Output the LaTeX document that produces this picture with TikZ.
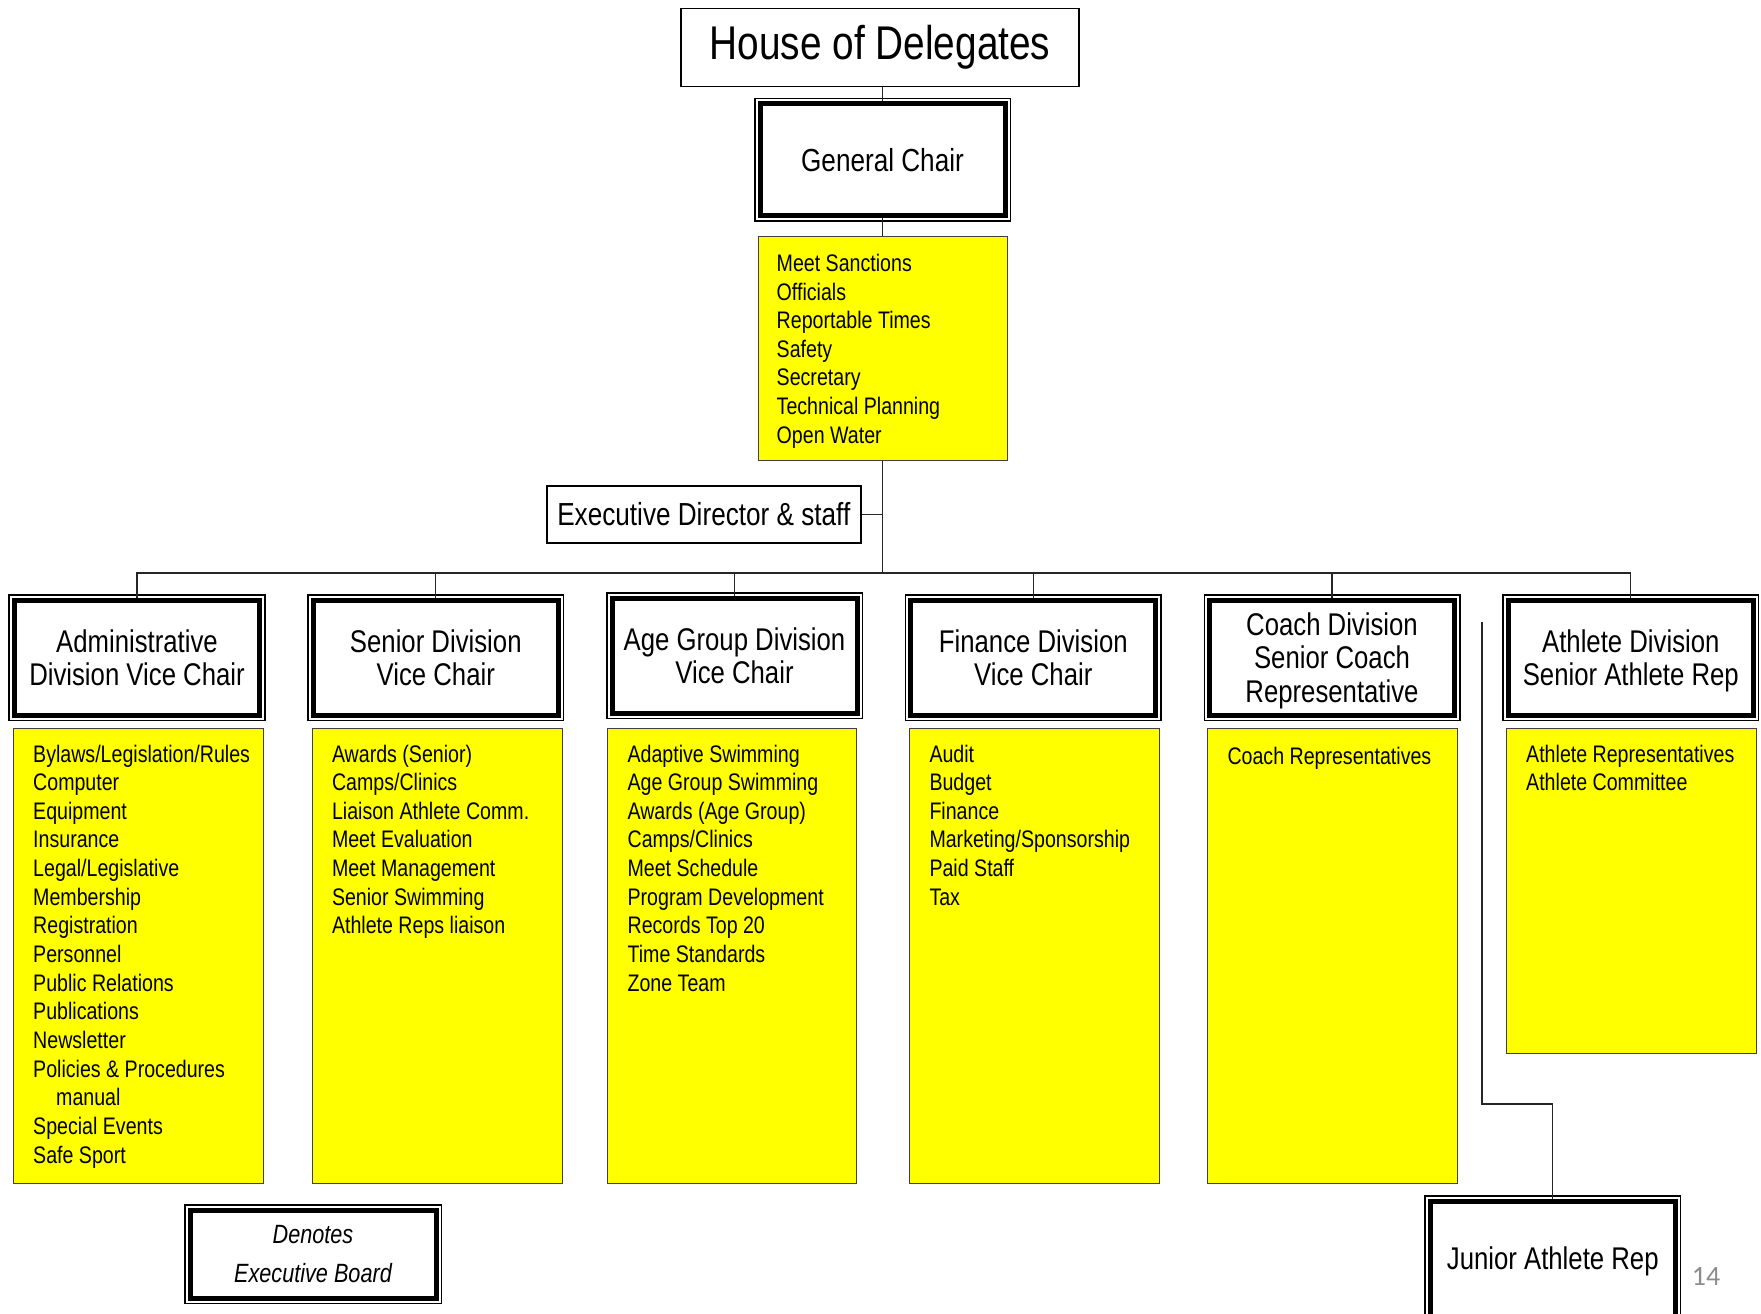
\documentclass[tikz,border=0pt]{standalone}
\usepackage{fontspec}
\setmainfont[FakeStretch=0.82]{Liberation Sans}
\newfontfamily\pagefont{Carlito}
\usetikzlibrary{calc}

\definecolor{pagegray}{RGB}{140,140,140}
\definecolor{dutyyellow}{RGB}{255,255,0}
\newcommand{\listfont}{\fontsize{24}{28.75}\selectfont}
\newcommand{\titlefont}{\fontsize{31.5}{33.7}\selectfont}

\begin{document}
\begin{tikzpicture}[
  x=1bp, y=-1bp,
  box/.style={draw, line width=1.5bp, align=center, inner sep=0pt},
  execbox/.style={draw, line width=5bp, fill=white, align=center, inner sep=0pt,
    minimum width=245bp, minimum height=115bp, font=\titlefont, text depth=0pt,
    preaction={draw=black, line width=12bp},
    preaction={draw=white, line width=9bp}},
  dutybox/.style={draw=black!75, line width=1bp, fill=dutyyellow, minimum width=250bp, inner sep=0pt},
  items/.style={anchor=north west, align=left, inner sep=0pt, font=\listfont, execute at begin node=\strut},
  conn/.style={draw=black!85, line width=1.3bp},
]
\useasboundingbox (0,0) rectangle (1761,1314);
\fill[white] (0,0) rectangle (1761,1314);
\clip (0,0) rectangle (1761,1314);

% Top of the chart
\node[box, minimum width=398bp, minimum height=78bp, font=\fontsize{47.5}{52}\selectfont] (house) at (880,47.5) {House of Delegates};
\node[execbox, minimum height=112bp, font=\fontsize{32}{36}\selectfont] (gc) at (882.5,160) {General Chair};
\node[dutybox, minimum width=249bp, minimum height=223bp] (gclist) at (882.5,348.5) {};
\node[items] (gcitems) at ([shift={(19,17.4)}]gclist.north west) {Meet Sanctions\\Officials\\Reportable Times\\Safety\\Secretary\\Technical Planning\\Open Water};
\node[box, minimum width=314bp, minimum height=57bp, font=\fontsize{32}{36}\selectfont] (exec) at (703.8,514.5) {Executive Director \& staff};

% Divisions
\node[execbox] (admin) at (137,657.5) {Administrative\\Division Vice Chair};
\node[execbox] (senior) at (435.8,657.5) {Senior Division\\Vice Chair};
\node[execbox] (agegroup) at (734.5,655.5) {Age Group Division\\Vice Chair};
\node[execbox] (finance) at (1033.3,657.5) {Finance Division\\Vice Chair};
\node[execbox] (coach) at (1332,657.5) {Coach Division\\Senior Coach\\Representative};
\node[execbox] (athlete) at (1630.8,657.5) {Athlete Division\\Senior Athlete Rep};

% Committee lists
\node[dutybox, minimum height=455bp] (adminlist) at (138.5,955.5) {};
\node[items] (adminitems) at ([shift={(20,17)}]adminlist.north west) {Bylaws/Legislation/Rules\\Computer\\Equipment\\Insurance\\Legal/Legislative\\Membership\\Registration\\Personnel\\Public Relations\\Publications\\Newsletter\\Policies \& Procedures\\\hspace*{23bp}manual\\Special Events\\Safe Sport};
\node[dutybox, minimum height=455bp] (seniorlist) at (437.3,955.5) {};
\node[items] (senioritems) at ([shift={(20,17)}]seniorlist.north west) {Awards (Senior)\\Camps/Clinics\\Liaison Athlete Comm.\\Meet Evaluation\\Meet Management\\Senior Swimming\\Athlete Reps liaison};
\node[dutybox, minimum width=249bp, minimum height=455bp] (agegrouplist) at (732.4,955.5) {};
\node[items] (agegroupitems) at ([shift={(20,17)}]agegrouplist.north west) {Adaptive Swimming\\Age Group Swimming\\Awards (Age Group)\\Camps/Clinics\\Meet Schedule\\Program Development\\Records Top 20\\Time Standards\\Zone Team};
\node[dutybox, minimum height=455bp] (financelist) at (1034.8,955.5) {};
\node[items] (financeitems) at ([shift={(20,17)}]financelist.north west) {Audit\\Budget\\Finance\\Marketing/Sponsorship\\Paid Staff\\Tax};
\node[dutybox, minimum height=455bp] (coachlist) at (1332.8,955.5) {};
\node[items] (coachitems) at ([shift={(20,17)}]coachlist.north west) {Coach Representatives};
\node[dutybox, minimum height=325.5bp] (athletelist) at (1631.5,890.75) {};
\node[items] (athleteitems) at ([shift={(20,17)}]athletelist.north west) {Athlete Representatives\\Athlete Committee};

% Bottom row
\node[execbox, minimum width=246bp, minimum height=88bp, font=\fontsize{26.5}{39}\selectfont\itshape] (legend) at (313,1254) {Denotes\\Executive Board};
\node[execbox] (junior) at (1552.75,1258.5) {Junior Athlete Rep};
\node[font=\pagefont\fontsize{28}{32}\selectfont, text=pagegray, anchor=base, inner sep=0pt] (pagenum) at (1706,1285) {14};

% Connectors
\coordinate (bus) at (882.5,573);
\draw[conn] (gc.north) -- (gc.north |- house.south);
\draw[conn] (gc.south) -- (gclist.north);
\draw[conn] (gclist.south) -- (bus);
\draw[conn] (exec.east) -- (exec.east -| gclist.south);
\draw[conn] (admin.north) |- (bus) -| (athlete.north);
\draw[conn] (senior.north) -- (senior.north |- bus);
\draw[conn] (agegroup.north) -- (agegroup.north |- bus);
\draw[conn] (finance.north) -- (finance.north |- bus);
\draw[conn] (coach.north) -- (coach.north |- bus);

\coordinate (jrstart) at (1482,622);
\coordinate (jrbend) at (1482,1104);
\draw[conn] (jrstart) -- (jrbend) -| (junior.north);
\end{tikzpicture}
\end{document}
